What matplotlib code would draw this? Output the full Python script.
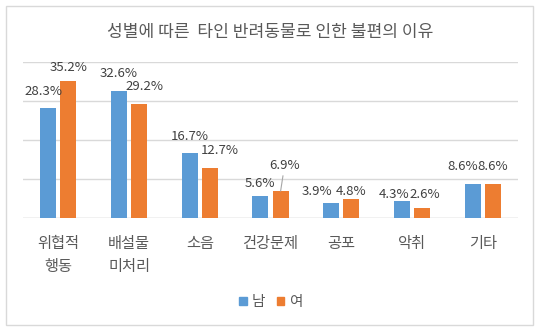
import matplotlib
matplotlib.use("Agg")
import matplotlib.pyplot as plt
from matplotlib.patches import Rectangle, Patch

plt.rcParams['font.family'] = ['Noto Sans CJK KR', 'DejaVu Sans']

title = "성별에 따른  타인 반려동물로 인한 불편의 이유"
categories = ["위협적\n행동", "배설물\n미처리", "소음", "건강문제", "공포", "악취", "기타"]
series_names = ["남", "여"]
male = [28.3, 32.6, 16.7, 5.6, 3.9, 4.3, 8.6]
female = [35.2, 29.2, 12.7, 6.9, 4.8, 2.6, 8.6]

# label offsets (pixels): (dx, height of label centre above bar top)
male_lab = [(-5, 16), (0, 17), (0, 16), (0, 13), (-14, 11), (-8, 7), (-10, 18)]
female_lab = [(0, 13), (5, 18), (10, 18), (4, 26), (0, 8), (3, 13), (0, 18)]

BLUE = "#5B9BD5"
ORANGE = "#ED7D31"
TXT = "#404040"
TICK = "#595959"

W, H = 541, 331
fig = plt.figure(figsize=(W / 100, H / 100), dpi=100)
fig.patch.set_facecolor("white")
fig.patches.append(Rectangle((6 / W, 1 - 325 / H), 527 / W, 319 / H,
                             transform=fig.transFigure, fill=False,
                             edgecolor="#d9d9d9", linewidth=1))

ax = fig.add_axes([23 / W, 1 - 218 / H, 495 / W, 156 / H])
x = list(range(len(categories)))
bw = 0.226
off = 0.143
bm = ax.bar([i - off for i in x], male, width=bw, color=BLUE, zorder=3)
bf = ax.bar([i + off for i in x], female, width=bw, color=ORANGE, zorder=3)

ax.set_xlim(-0.5, len(categories) - 0.5)
ax.set_ylim(0, 40)
ax.set_yticks([0, 10, 20, 30, 40])
ax.yaxis.grid(True, color="#d9d9d9", linewidth=1, zorder=0)
ax.tick_params(axis="y", left=False, labelleft=False)
ax.tick_params(axis="x", bottom=False, pad=9, labelsize=11, labelcolor=TICK)
ax.set_xticks(x)
ax.set_xticklabels(categories, linespacing=1.45)
for s in ax.spines.values():
    s.set_visible(False)
ax.axhline(0, color="#d9d9d9", linewidth=1, zorder=2)

for i in x:
    for vals, labs, o in ((male, male_lab, -off), (female, female_lab, off)):
        dx, dy = labs[i]
        kw = {}
        if vals is female and i == 3:
            kw = dict(arrowprops=dict(arrowstyle="-", color="#a6a6a6", lw=0.8,
                                      shrinkA=1, shrinkB=0))
        ax.annotate(f"{vals[i]:.1f}%", xy=(i + o, vals[i]), xytext=(dx, dy),
                    textcoords="offset pixels", ha="center", va="center",
                    fontsize=9.5, color=TXT, annotation_clip=False, **kw)

fig.text(270 / W, 1 - 32 / H, title, ha="center", va="center",
         fontsize=12.3, color=TICK)

handles = [Patch(color=BLUE), Patch(color=ORANGE)]
fig.legend(handles, series_names, loc="center", bbox_to_anchor=(271 / W, 1 - 302 / H),
           ncol=2, frameon=False, fontsize=10.5, handlelength=0.5, handleheight=0.5,
           handletextpad=0.35, columnspacing=0.8, labelcolor=TICK)

fig.savefig("out.png", dpi=100)
